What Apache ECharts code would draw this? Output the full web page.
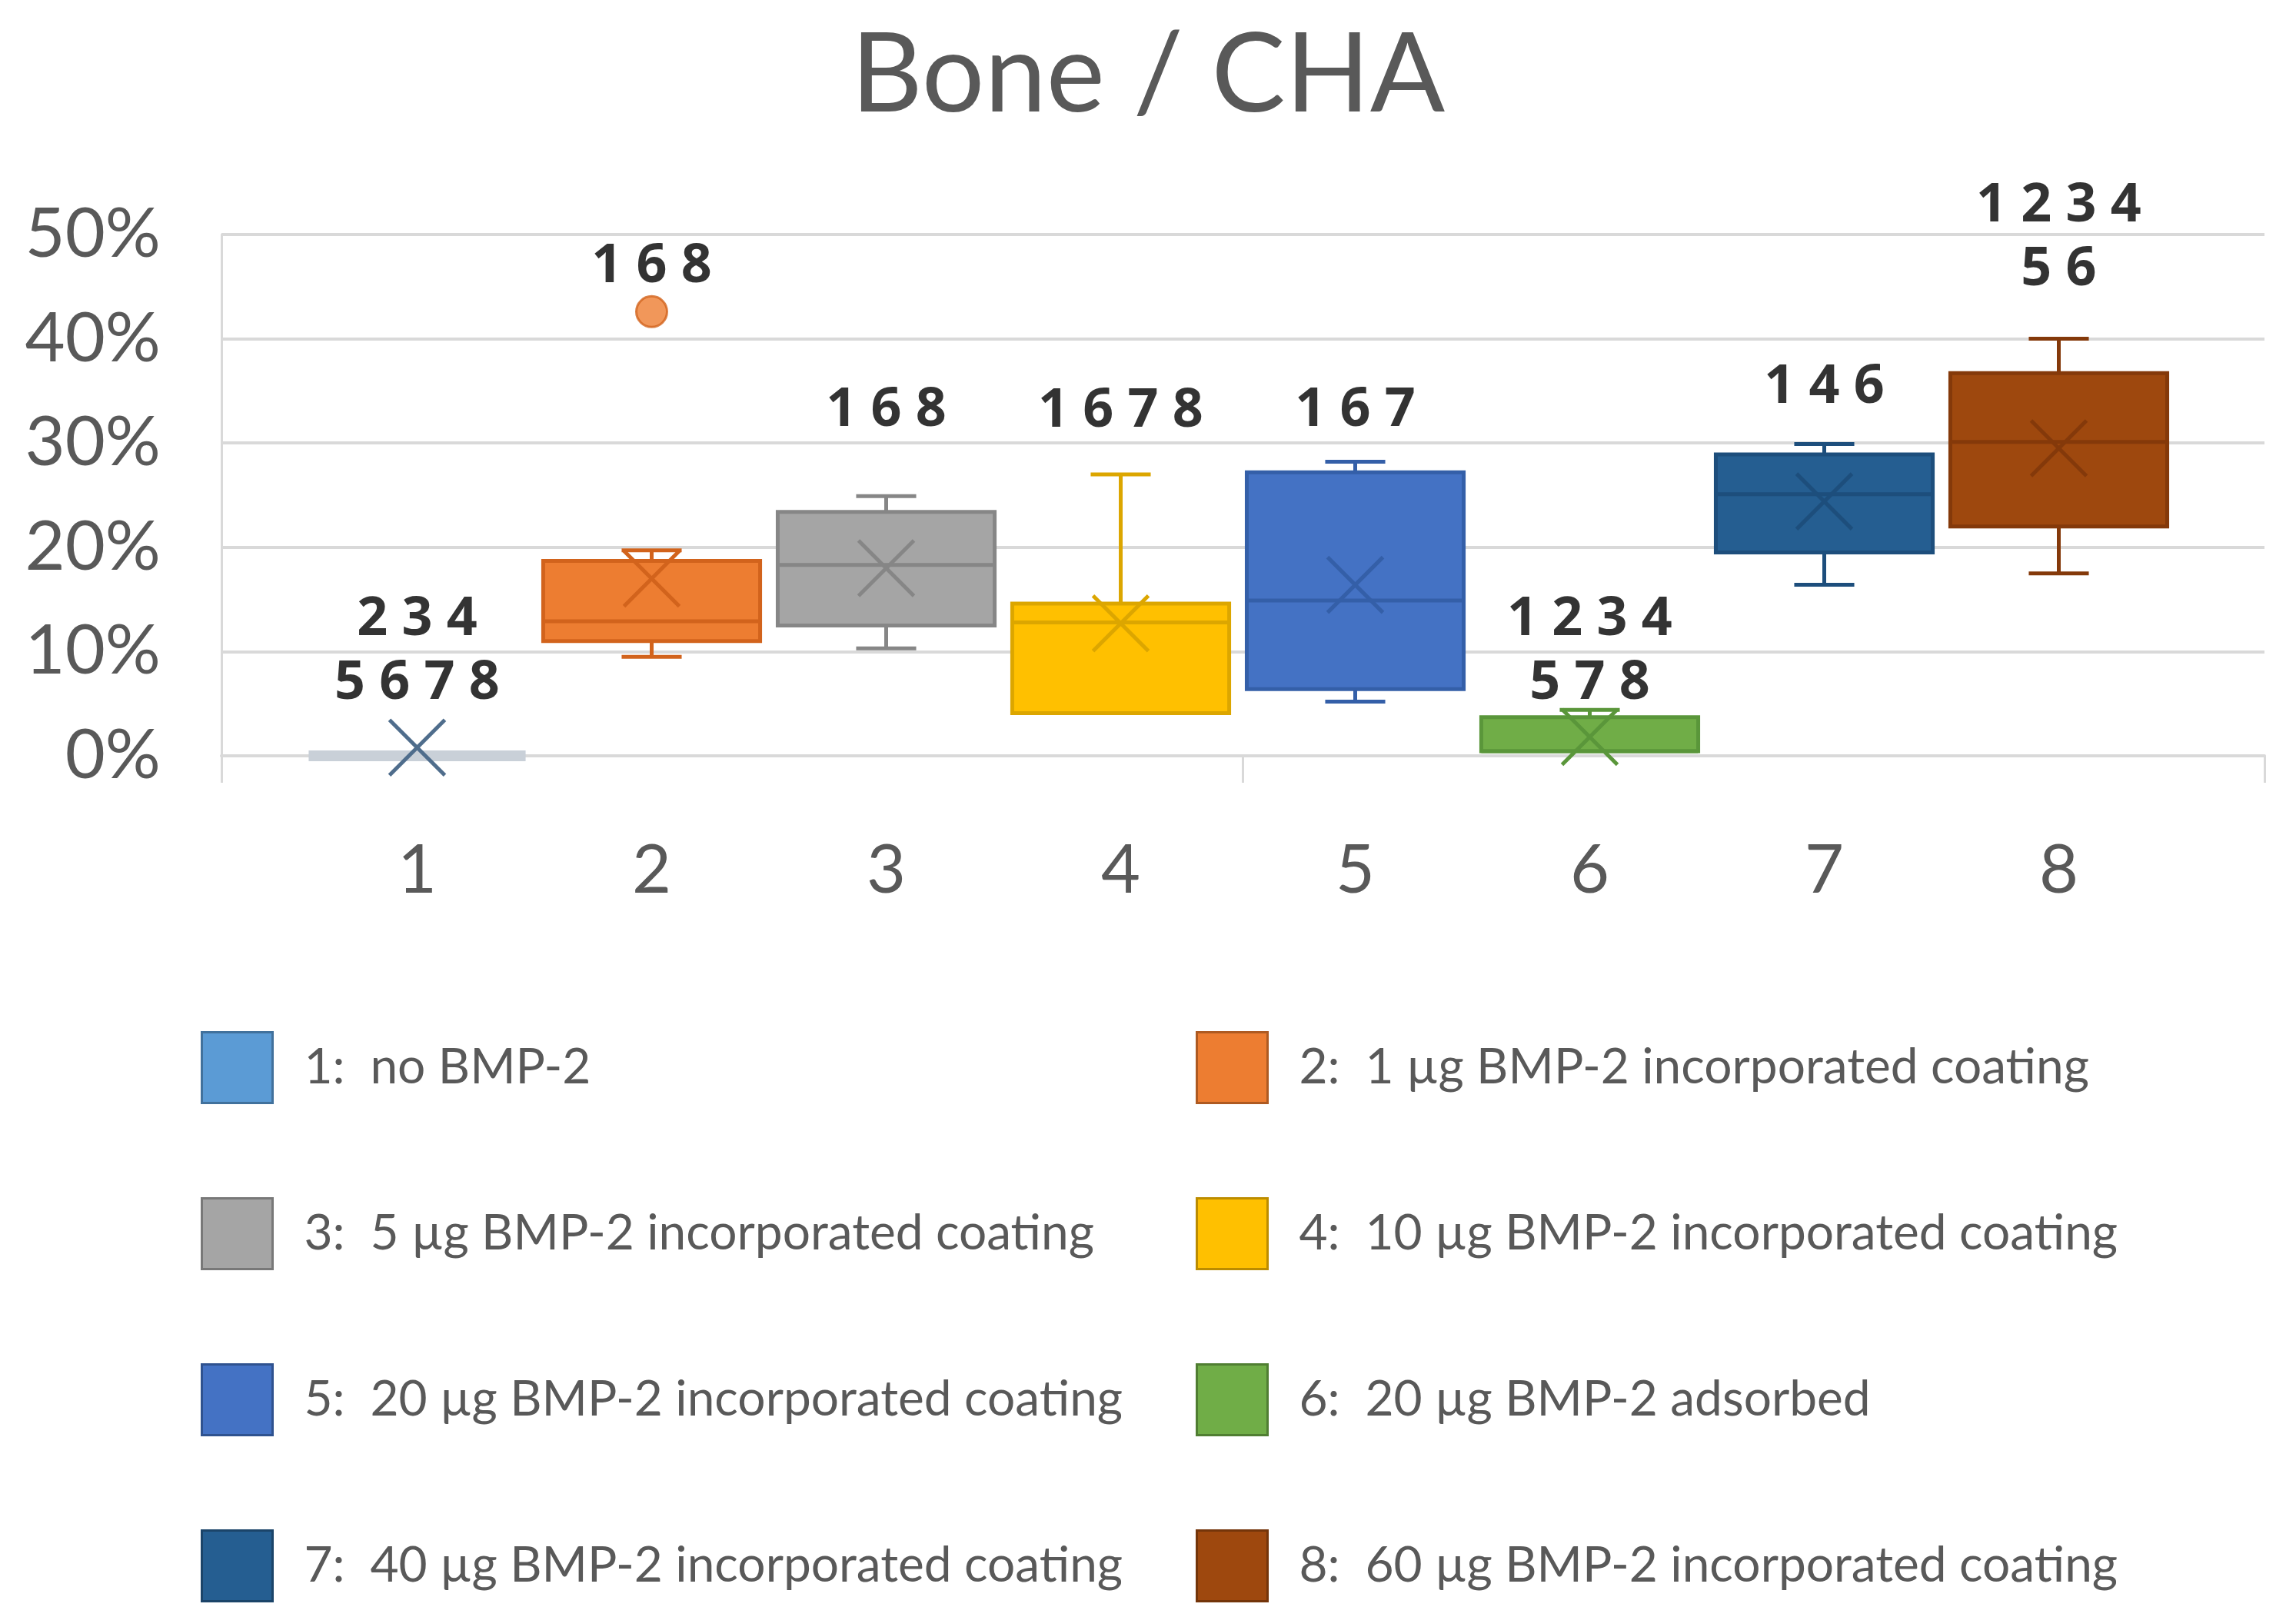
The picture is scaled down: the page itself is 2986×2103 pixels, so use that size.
<!DOCTYPE html>
<html>
<head>
<meta charset="utf-8">
<script src="https://cdn.jsdelivr.net/npm/echarts@6/dist/echarts.min.js"></script>
<style>html,body{margin:0;padding:0;background:#fff}#chart{width:2986px;height:2103px}</style>
</head>
<body>
<div id="chart"></div>
<script>
// ---------- data (values in %) ----------
const categories = ['1', '2', '3', '4', '5', '6', '7', '8'];
const groupNames = [
  '1:  no BMP-2',
  '2:  1 µg BMP-2 incorporated coating',
  '3:  5 µg BMP-2 incorporated coating',
  '4:  10 µg BMP-2 incorporated coating',
  '5:  20 µg BMP-2 incorporated coating',
  '6:  20 µg BMP-2 adsorbed',
  '7:  40 µg BMP-2 incorporated coating',
  '8:  60 µg BMP-2 incorporated coating'
];
const minValues    = [0,   9.5, 10.3,  4.1,  5.2, 0.45, 16.4, 17.5];
const q1Values     = [0,  11.0, 12.5,  4.1,  6.4, 0.45, 19.5, 22.0];
const medianValues = [0,  12.9, 18.3, 12.8, 14.9, 0.45, 25.1, 30.1];
const q3Values     = [0,  18.7, 23.4, 14.6, 27.2, 3.7,  28.9, 36.7];
const maxValues    = [0,  19.7, 24.9, 27.0, 28.2, 4.4,  29.9, 40.0];
const meanValues   = [0.8, 17.0, 18.0, 12.7, 16.4, 1.8, 24.4, 29.5];
const outliers     = [[1, 42.6]];            // [group index, value]
const sigLabels    = ['2 3 4\n5 6 7 8', '1 6 8', '1 6 8', '1 6 7 8', '1 6 7', '1 2 3 4\n5 7 8', '1 4 6', '1 2 3 4\n5 6'];
const sigLabelY    = [10.0, 46.9, 33.1, 33.0, 33.1, 10.0, 35.3, 49.7];
const yAxisMin = 0, yAxisMax = 50, yAxisStep = 10;

// ---------- styles ----------
const fillColors = ['#5B9BD5', '#ED7D31', '#A5A5A5', '#FFC000', '#4472C4', '#70AD47', '#255E91', '#9E480E'];
const lineColors = ['#c9d0d8', '#D2631C', '#868686', '#DCA600', '#345FA8', '#5A963A', '#1D4E7C', '#84390A'];
const meanColors = ['#4f6d8c', '#D2631C', '#868686', '#DCA600', '#345FA8', '#5A963A', '#1D4E7C', '#84390A'];
const boxLineWidths = [14, 5, 5, 5, 5, 5, 5, 5];
const legendBorders = ['#41719C', '#AE5A21', '#787878', '#BC8C00', '#2F528F', '#507E32', '#1B4469', '#74350A'];

function renderBox(params, api) {
  const s = params.seriesIndex;
  const idx = api.value(0);
  const mn = api.value(1), q1 = api.value(2), md = api.value(3), q3 = api.value(4), mx = api.value(5), mean = api.value(6);
  const band = api.size([1, 0])[0];
  const cx = api.coord([idx, 0])[0];
  const Y = v => api.coord([idx, v])[1];
  const hw = band * 0.4625, cw = band * 0.128, xs = 36;
  const st = { stroke: lineColors[s], lineWidth: 5 };
  const ln = (x1, y1, x2, y2, style) => ({ type: 'line', shape: { x1, y1, x2, y2 }, style: style || st });
  const ch = [];
  if (mx > q3) { ch.push(ln(cx, Y(q3), cx, Y(mx))); ch.push(ln(cx - cw, Y(mx), cx + cw, Y(mx))); }
  if (mn < q1) { ch.push(ln(cx, Y(q1), cx, Y(mn))); ch.push(ln(cx - cw, Y(mn), cx + cw, Y(mn))); }
  ch.push({ type: 'rect', shape: { x: cx - hw, y: Y(q3), width: 2 * hw, height: Y(q1) - Y(q3) },
            style: { fill: s === 0 ? 'none' : fillColors[s], stroke: lineColors[s], lineWidth: boxLineWidths[s] } });
  if (s !== 0) ch.push(ln(cx - hw, Y(md), cx + hw, Y(md)));
  const my = Y(mean), ms = { stroke: meanColors[s], lineWidth: 5 };
  ch.push(ln(cx - xs, my - xs, cx + xs, my + xs, ms));
  ch.push(ln(cx - xs, my + xs, cx + xs, my - xs, ms));
  return { type: 'group', children: ch };
}

const boxSeries = categories.map((c, i) => ({
  type: 'custom',
  name: groupNames[i],
  xAxisIndex: 1, yAxisIndex: 1,
  renderItem: renderBox,
  itemStyle: { color: fillColors[i] },
  encode: { x: 0, y: [1, 2, 3, 4, 5, 6] },
  data: [[i, minValues[i], q1Values[i], medianValues[i], q3Values[i], maxValues[i], meanValues[i]]],
  z: 3, silent: true
}));

const legendData = cols => cols.map(i => ({ name: groupNames[i], itemStyle: { color: fillColors[i], borderColor: legendBorders[i], borderWidth: 3 } }));
const legendBase = {
  orient: 'vertical', top: 1336, itemWidth: 92, itemHeight: 92, itemGap: 121, icon: 'rect', selectedMode: false,
  textStyle: { fontFamily: 'Lato', fontSize: 64, color: '#595959', padding: [0, 0, 0, 36] }
};

const option = {
  animation: false,
  backgroundColor: '#ffffff',
  title: { text: 'Bone / CHA', left: 'center', top: 22,
           textStyle: { fontFamily: 'Lato', fontWeight: 'normal', fontSize: 144, color: '#595959' } },
  legend: [
    Object.assign({}, legendBase, { left: 256, data: legendData([0, 2, 4, 6]) }),
    Object.assign({}, legendBase, { left: 1550, data: legendData([1, 3, 5, 7]) })
  ],
  grid: [
    { left: 288, top: 305, width: 2657, height: 678 },
    { left: 390, top: 305, width: 2440, height: 678 }
  ],
  xAxis: [
    { gridIndex: 0, type: 'value', min: 0, max: 2, interval: 1,
      axisLine: { show: true, lineStyle: { color: '#d9d9d9', width: 4 } },
      axisTick: { show: true, length: 35, lineStyle: { color: '#d9d9d9', width: 3 } },
      axisLabel: { show: false }, splitLine: { show: false } },
    { gridIndex: 1, type: 'category', data: categories,
      axisLine: { show: false }, axisTick: { show: false },
      axisLabel: { fontFamily: 'Lato', fontSize: 88, color: '#595959', margin: 106 } }
  ],
  yAxis: [
    { gridIndex: 0, type: 'value', min: yAxisMin, max: yAxisMax, interval: yAxisStep,
      axisLine: { show: true, lineStyle: { color: '#d9d9d9', width: 3 } },
      axisTick: { show: false },
      axisLabel: { formatter: '{value}%', fontFamily: 'Lato', fontSize: 90, color: '#595959', margin: 79 },
      splitLine: { lineStyle: { color: '#d9d9d9', width: 4 } } },
    { gridIndex: 1, type: 'value', min: yAxisMin, max: yAxisMax, show: false }
  ],
  series: boxSeries.concat([
    { type: 'scatter', xAxisIndex: 1, yAxisIndex: 1, data: outliers, symbolSize: 40, z: 4, silent: true,
      itemStyle: { color: '#ED7D31', borderColor: '#D2631C', borderWidth: 3 } },
    { type: 'scatter', xAxisIndex: 1, yAxisIndex: 1, symbolSize: 1, z: 5, silent: true,
      itemStyle: { color: 'rgba(0,0,0,0)' },
      data: sigLabels.map((t, i) => [i, sigLabelY[i]]),
      label: { show: true, position: 'inside', formatter: p => sigLabels[p.dataIndex],
               fontFamily: 'Noto Sans', fontWeight: 'bold', fontSize: 70, lineHeight: 83, color: '#000000' } }
  ])
};

const chart = echarts.init(document.getElementById('chart'), null, { renderer: 'canvas' });
chart.setOption(option);
</script>
</body>
</html>
